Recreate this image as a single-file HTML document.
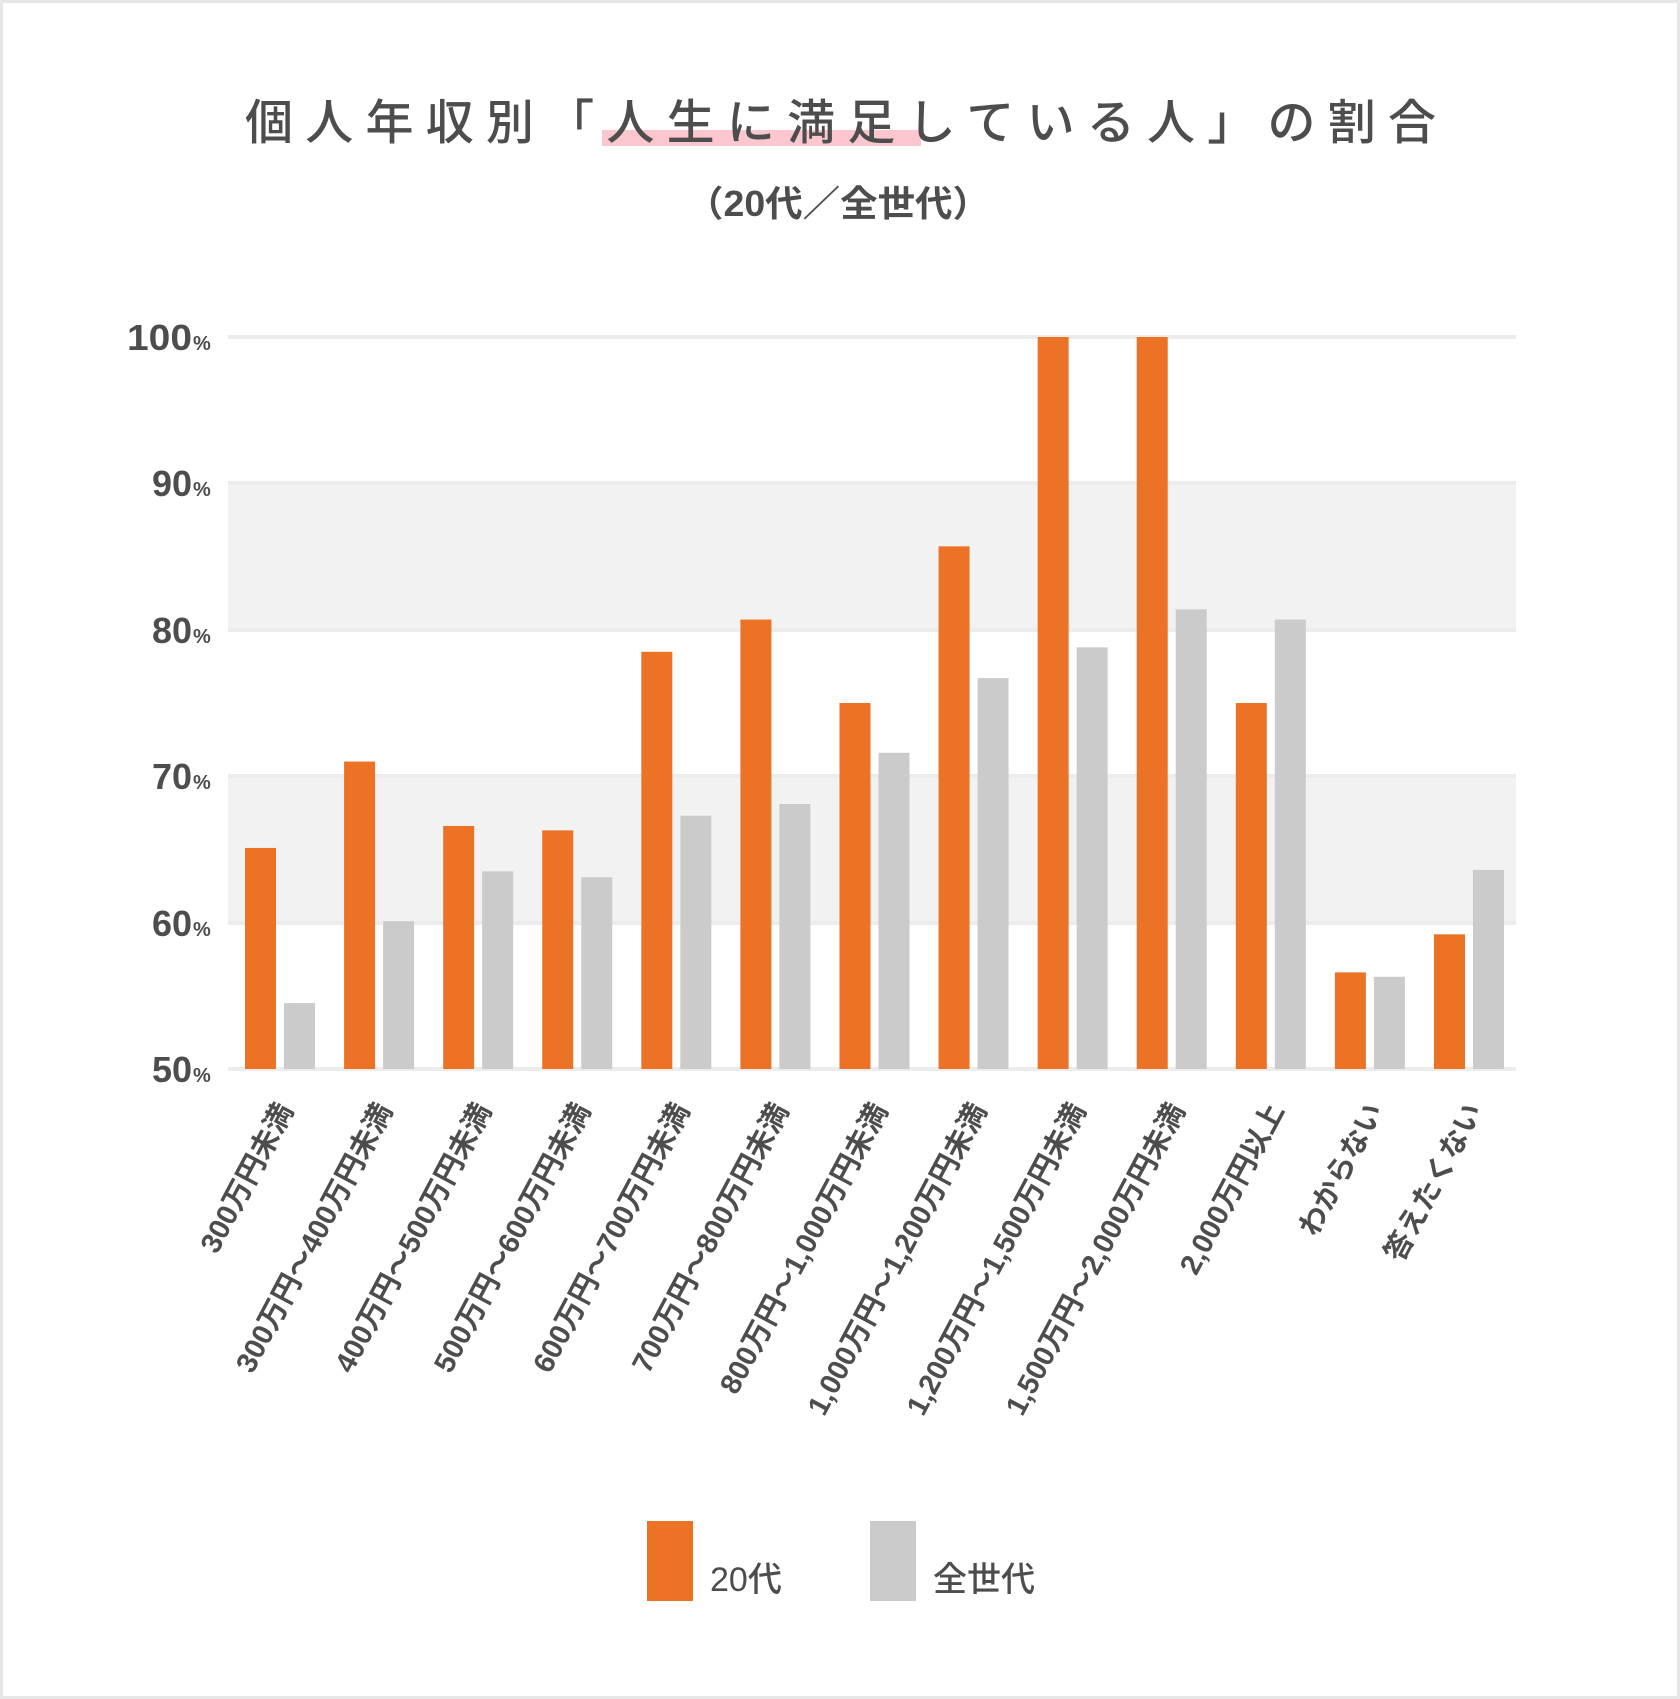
<!DOCTYPE html>
<html><head><meta charset="utf-8"><style>
html,body{margin:0;padding:0;background:#fff}
svg{display:block}
text{font-family:"Liberation Sans","Noto Sans CJK JP",sans-serif;fill:#4d4d4d}
</style></head><body>
<svg width="1680" height="1699" viewBox="0 0 1680 1699" xmlns="http://www.w3.org/2000/svg">
<rect x="1.5" y="1.5" width="1677" height="1696" fill="#fff" stroke="#e6e6e6" stroke-width="3"/>
<rect x="602" y="130" width="319" height="16" fill="#fcc6cf"/>
<text x="245" y="139" font-size="48" font-weight="500" textLength="1191" lengthAdjust="spacing">個人年収別「人生に満足している人」の割合</text>
<text x="686" y="216" font-size="36" font-weight="bold" textLength="304" lengthAdjust="spacingAndGlyphs">（20代／全世代）</text>
<rect x="228" y="483" width="1288" height="147" fill="#f2f2f2"/>
<rect x="228" y="776" width="1288" height="147" fill="#f2f2f2"/>
<g fill="#ececec">
<rect x="228" y="335" width="1288" height="4"/>
<rect x="228" y="481" width="1288" height="4"/>
<rect x="228" y="628" width="1288" height="4"/>
<rect x="228" y="774" width="1288" height="4"/>
<rect x="228" y="921" width="1288" height="4"/>
<rect x="228" y="1067" width="1288" height="4"/>
</g>
<g font-weight="bold" text-anchor="end" font-size="36">
<text x="192" y="350" textLength="65" lengthAdjust="spacingAndGlyphs">100</text><text x="192" y="496">90</text><text x="192" y="643">80</text>
<text x="192" y="789">70</text><text x="192" y="936">60</text><text x="192" y="1082">50</text>
</g>
<g font-weight="bold" font-size="20">
<text x="193" y="350">%</text><text x="193" y="496">%</text><text x="193" y="643">%</text>
<text x="193" y="789">%</text><text x="193" y="936">%</text><text x="193" y="1082">%</text>
</g>
<g id="bars"></g>
<g id="labels" font-size="29" font-weight="bold"></g>
<rect x="647" y="1521" width="46" height="80" fill="#ec7225"/>
<text x="710" y="1591" font-size="34" font-weight="500">20代</text>
<rect x="870" y="1521" width="46" height="80" fill="#cbcbcb"/>
<text x="933" y="1591" font-size="34" font-weight="500">全世代</text>
<script>
var a=[65.1,71.0,66.6,66.3,78.5,80.7,75.0,85.7,100,100,75.0,56.6,59.2];
var b=[54.5,60.1,63.5,63.1,67.3,68.1,71.6,76.7,78.8,81.4,80.7,56.3,63.6];
var L=["300万円未満","300万円～400万円未満","400万円～500万円未満","500万円～600万円未満","600万円～700万円未満","700万円～800万円未満","800万円～1,000万円未満","1,000万円～1,200万円未満","1,200万円～1,500万円未満","1,500万円～2,000万円未満","2,000万円以上","わからない","答えたくない"];
var ns="http://www.w3.org/2000/svg",g=document.getElementById("bars"),lg=document.getElementById("labels");
function y(v){return 1069-(v-50)*14.64;}
for(var i=0;i<13;i++){
 var x0=228+i*99.08;
 [[a[i],17,"#ec7225"],[b[i],56,"#cbcbcb"]].forEach(function(d){
  var r=document.createElementNS(ns,"rect");
  r.setAttribute("x",x0+d[1]);r.setAttribute("width",31);
  r.setAttribute("y",y(d[0]));r.setAttribute("height",1069-y(d[0]));
  r.setAttribute("fill",d[2]);g.appendChild(r);});
 var t=document.createElementNS(ns,"text");
 var cx=x0+66,cy=1110;
 t.setAttribute("x",cx);t.setAttribute("y",cy);t.setAttribute("text-anchor","end");
 t.setAttribute("transform","rotate(-62 "+cx+" "+cy+")");
 t.textContent=L[i];lg.appendChild(t);
}
</script>
</svg>
</body></html>
